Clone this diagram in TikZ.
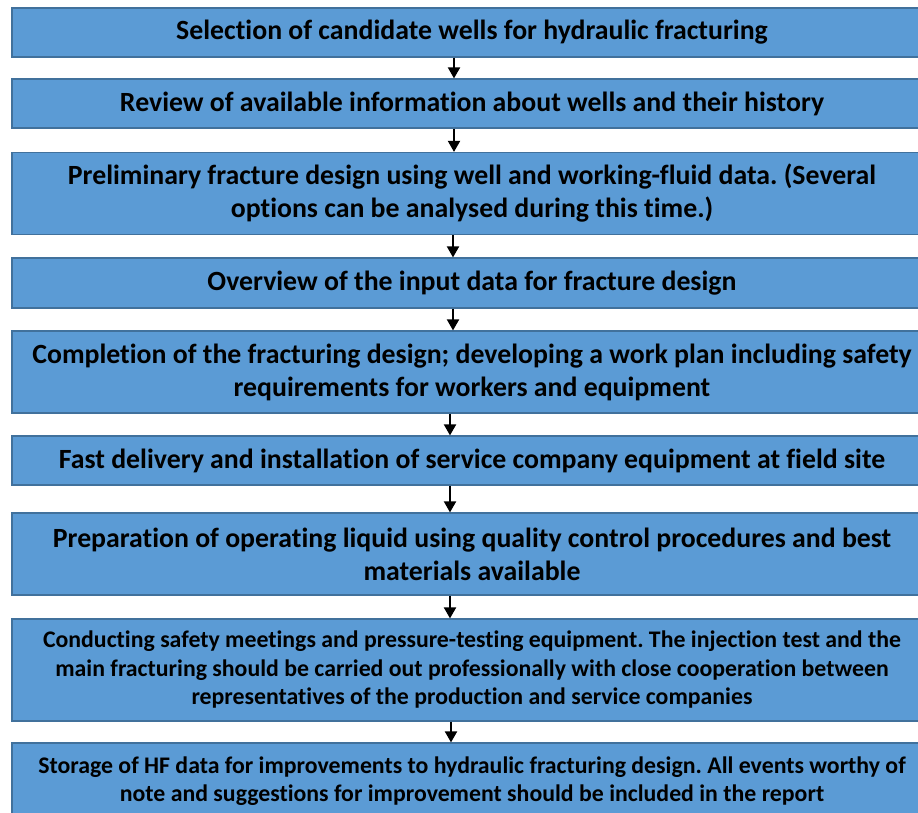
\documentclass[tikz,border=0pt]{standalone}
\usepackage{fontspec}
\setmainfont{Carlito}[Ligatures=NoCommon]
\usetikzlibrary{arrows.meta}
\definecolor{boxfill}{HTML}{5B9BD5}
\definecolor{boxline}{HTML}{41719C}
\frenchspacing
\begin{document}
\begin{tikzpicture}[x=1pt,y=-1pt,
  stage/.style={shape=rectangle, draw=boxline, line width=1.2pt, fill=boxfill, align=center, inner sep=0pt, minimum width=920pt, font=\bfseries\fontsize{27.8}{33}\selectfont},
  small/.style={font=\bfseries\fontsize{23.8}{28.5}\selectfont},
  flow/.style={-{Triangle[length=11pt,width=12pt]}, line width=2pt}]
\useasboundingbox (0,0) rectangle (918,813);

\node[stage, minimum height=49pt] (n1) at (472,32.5) {Selection of candidate wells for hydraulic fracturing};
\node[stage, minimum height=49pt] (n2) at (472,103.5) {Review of available information about wells and their history};
\node[stage, minimum height=82pt] (n3) at (472,193.5) {Preliminary fracture design using well and working-fluid data. (Several\\options can be analysed during this time.)};
\node[stage, minimum height=50pt] (n4) at (472,283) {Overview of the input data for fracture design};
\node[stage, minimum height=82pt] (n5) at (472,372) {Completion of the fracturing design; developing a work plan including safety\\requirements for workers and equipment};
\node[stage, minimum height=49pt] (n6) at (472,460.5) {Fast delivery and installation of service company equipment at field site};
\node[stage, minimum height=82pt] (n7) at (472,554) {Preparation of operating liquid using quality control procedures and best\\materials available};
\node[stage, small, minimum height=102pt] (n8) at (472,670) {Conducting safety meetings and pressure-testing equipment. The injection test and the\\main fracturing should be carried out professionally with close cooperation between\\representatives of the production and service companies};
\node[stage, small, minimum height=76pt] (n9) at (472,781) {Storage of HF data for improvements to hydraulic fracturing design. All events worthy of\\note and suggestions for improvement should be included in the report};

\draw[flow] ([xshift=-18pt]n1.south) -- ([xshift=-18pt]n2.north);
\draw[flow] ([xshift=-18pt]n2.south) -- ([xshift=-18pt]n3.north);
\draw[flow] ([xshift=-19pt]n3.south) -- ([xshift=-19pt]n4.north);
\draw[flow] ([xshift=-19pt]n4.south) -- ([xshift=-19pt]n5.north);
\draw[flow] ([xshift=-22pt]n5.south) -- ([xshift=-22pt]n6.north);
\draw[flow] ([xshift=-22pt]n6.south) -- ([xshift=-22pt]n7.north);
\draw[flow] ([xshift=-22pt]n7.south) -- ([xshift=-22pt]n8.north);
\draw[flow] ([xshift=-21pt]n8.south) -- ([xshift=-21pt]n9.north);
\end{tikzpicture}
\end{document}
